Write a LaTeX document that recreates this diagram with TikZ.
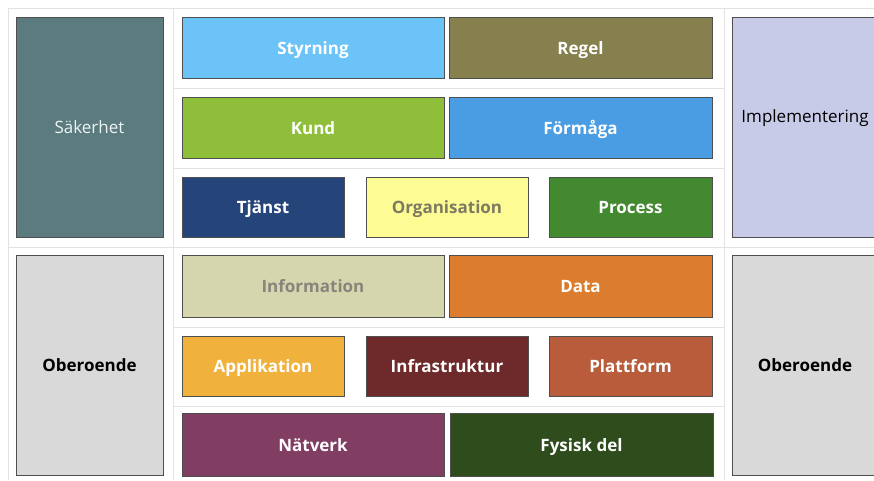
\documentclass[tikz,border=0pt]{standalone}
\usepackage{fontspec}
\setmainfont{Open Sans}
\definecolor{gridc}{HTML}{E2E2E2}
\definecolor{edgec}{HTML}{4F4F4F}
\definecolor{csaek}{HTML}{5B7B7E}
\definecolor{cstyr}{HTML}{6BC3F7}
\definecolor{cregel}{HTML}{86804F}
\definecolor{ckund}{HTML}{8FBF3A}
\definecolor{cform}{HTML}{4A9DE2}
\definecolor{ctjanst}{HTML}{25447A}
\definecolor{corg}{HTML}{FDFB94}
\definecolor{corgt}{HTML}{7C7B62}
\definecolor{cproc}{HTML}{43892F}
\definecolor{cimpl}{HTML}{C8CBE8}
\definecolor{cinfo}{HTML}{D6D6AE}
\definecolor{cinfot}{HTML}{85857C}
\definecolor{cdata}{HTML}{DB7C2E}
\definecolor{cappl}{HTML}{F0B23C}
\definecolor{cinfra}{HTML}{6E2A2A}
\definecolor{cplatt}{HTML}{B85C3C}
\definecolor{cnat}{HTML}{813D62}
\definecolor{cfys}{HTML}{2F4D1C}
\definecolor{cober}{HTML}{D9D9D9}
\definecolor{csaekt}{HTML}{EEF3F3}
\tikzset{
  gridline/.style={draw=gridc, line width=1pt},
  blk/.style={draw=edgec, line width=0.8pt, inner sep=0pt, text height=13pt, text depth=0pt, font=\fontsize{17}{20}\selectfont\bfseries, text=white},
  plain/.style={font=\fontsize{17}{20}\selectfont, inner sep=0pt, text height=13pt, text depth=0pt},
}
\begin{document}
\begin{tikzpicture}[x=1pt,y=-1pt]
\useasboundingbox (0,0) rectangle (874,480);
\fill[white] (0,0) rectangle (874,480);
% grid
\draw[gridline] (8,8) -- (874,8);
\draw[gridline] (8,247) -- (874,247);
\draw[gridline] (8,8) -- (8,480);
\draw[gridline] (173,8) -- (173,480);
\draw[gridline] (724,8) -- (724,480);
\draw[gridline] (173,88) -- (724,88);
\draw[gridline] (173,168) -- (724,168);
\draw[gridline] (173,327) -- (724,327);
\draw[gridline] (173,406) -- (724,406);
% left column
\node[blk, fill=csaek, minimum width=147pt, minimum height=220pt, font=\fontsize{17}{20}\selectfont, text=csaekt] (saek) at (89.5,127) {Säkerhet};
\node[blk, fill=cober, minimum width=147pt, minimum height=220pt, text=black] (ober1) at (89.5,365) {Oberoende};
% right column
\node[blk, fill=cimpl, minimum width=146pt, minimum height=220pt] (impl) at (805,127) {};
\node[plain, text=black] (impltxt) at (805,116) {Implementering};
\node[blk, fill=cober, minimum width=146pt, minimum height=220pt, text=black] (ober2) at (805,365) {Oberoende};
% upper middle
\node[blk, fill=cstyr, minimum width=262pt, minimum height=61pt] (styr) at (313,47.5) {Styrning};
\node[blk, fill=cregel, minimum width=263pt, minimum height=61pt] (regel) at (580.5,47.5) {Regel};
\node[blk, fill=ckund, minimum width=262pt, minimum height=61pt] (kund) at (313,127.5) {Kund};
\node[blk, fill=cform, minimum width=263pt, minimum height=61pt] (form) at (580.5,127.5) {Förmåga};
\node[blk, fill=ctjanst, minimum width=162pt, minimum height=60pt] (tjanst) at (263,207) {Tjänst};
\node[blk, fill=corg, minimum width=162pt, minimum height=60pt, text=corgt] (org) at (447,207) {Organisation};
\node[blk, fill=cproc, minimum width=163pt, minimum height=60pt] (proc) at (630.5,207) {Process};
% lower middle
\node[blk, fill=cinfo, minimum width=262pt, minimum height=62pt, text=cinfot] (info) at (313,286) {Information};
\node[blk, fill=cdata, minimum width=263pt, minimum height=62pt] (data) at (580.5,286) {Data};
\node[blk, fill=cappl, minimum width=162pt, minimum height=60pt] (appl) at (263,366) {Applikation};
\node[blk, fill=cinfra, minimum width=162pt, minimum height=60pt] (infra) at (447,366) {Infrastruktur};
\node[blk, fill=cplatt, minimum width=163pt, minimum height=60pt] (platt) at (630.5,366) {Plattform};
\node[blk, fill=cnat, minimum width=262pt, minimum height=63pt] (nat) at (313,444.5) {Nätverk};
\node[blk, fill=cfys, minimum width=263pt, minimum height=63pt] (fys) at (581.5,444.5) {Fysisk del};
\end{tikzpicture}
\end{document}
